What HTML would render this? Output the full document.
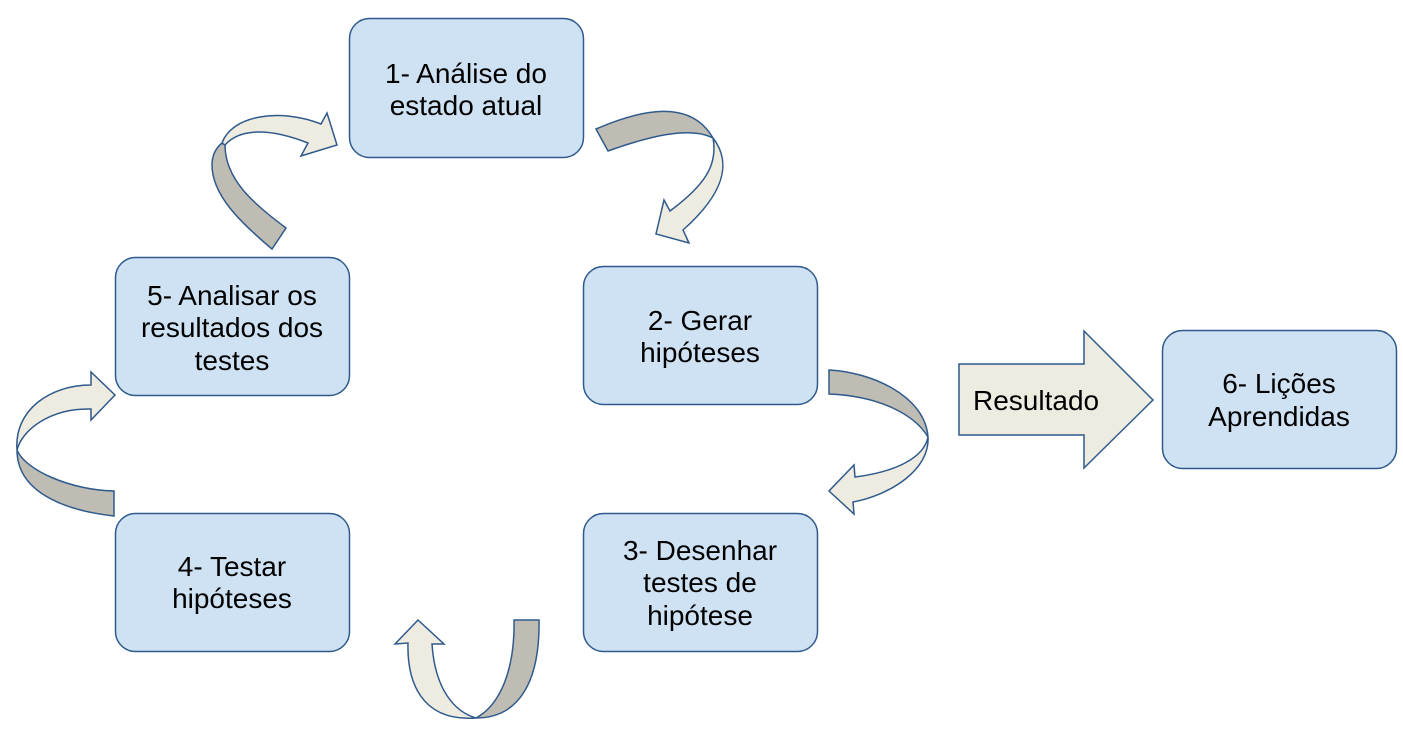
<!DOCTYPE html>
<html><head><meta charset="utf-8"><style>
html,body{margin:0;padding:0;background:#fff;}
svg{display:block;}
text{font-family:"Liberation Sans",Arial,sans-serif;font-size:28px;fill:#000;}
</style></head><body>
<svg width="1403" height="729" viewBox="0 0 1403 729" xmlns="http://www.w3.org/2000/svg">
<g fill="#cfe2f3" stroke="#2f5a8c" stroke-width="1.5">
<rect x="349.5" y="18.5" width="234" height="139" rx="20"/>
<rect x="583.5" y="266.5" width="234" height="138" rx="20"/>
<rect x="583.5" y="513.5" width="234" height="138" rx="20"/>
<rect x="115.5" y="513.5" width="234" height="138" rx="20"/>
<rect x="115.5" y="257.5" width="234" height="138" rx="20"/>
<rect x="1162.5" y="330.5" width="234" height="138" rx="20"/>
</g>
<g stroke="#2f5a8c" stroke-width="1.5" stroke-linejoin="miter">
<path fill="#bfbcb4" d="M272,249 C240,222 212,195 212,165 C212,155 216,148 222,143 L225,145 C225,180 255,205 286,228 Z"/>
<path fill="#eeece1" d="M222,143 C232,115 280,108 321,124 L327,113 L337,145 L301,156 L308,143 C270,128 240,128 225,145 Z"/>
<path fill="#bfbcb4" d="M596,129 C640,110 690,98 713,138 C690,126 650,136 608,151 Z"/>
<path fill="#eeece1" d="M713,138 C730,160 728,190 683,230 L689,243 L656,234 L664,200 L670,211 C705,185 718,165 713,138 Z"/>
<path fill="#bfbcb4" d="M829,370 C870,372 925,395 928,437 C915,415 880,396 829,394 Z"/>
<path fill="#eeece1" d="M928,437 C930,470 890,495 853,502 L854,514 L829,491 L854,465 L855,477 C895,472 924,458 928,437 Z"/>
<path fill="#bfbcb4" d="M114,516 C60,510 17,490 17,450 C25,470 70,490 114,491 Z"/>
<path fill="#eeece1" d="M17,450 C14,410 50,385 91,385 L91,372 L115,395 L91,420 L91,409 C50,408 22,430 17,450 Z"/>
<path fill="#bfbcb4" d="M539,620 C540,680 520,718 476,718 C500,705 515,670 514,620 Z"/>
<path fill="#eeece1" d="M476,718 C420,722 407,680 408,643 L395,644 L418,620 L444,644 L432,644 C435,690 455,712 476,718 Z"/>
<path fill="#eeece1" d="M959,364 L1084,364 L1084,331 L1153,400 L1084,468 L1084,435 L959,435 Z"/>
</g>
<g text-anchor="middle">
<text x="466" y="83">1- Análise do</text>
<text x="466" y="115">estado atual</text>
<text x="700" y="330">2- Gerar</text>
<text x="700" y="362">hipóteses</text>
<text x="700" y="560">3- Desenhar</text>
<text x="700" y="592">testes de</text>
<text x="700" y="625">hipótese</text>
<text x="232" y="576">4- Testar</text>
<text x="232" y="608">hipóteses</text>
<text x="232" y="305">5- Analisar os</text>
<text x="232" y="337">resultados dos</text>
<text x="232" y="370">testes</text>
<text x="1279" y="393">6- Lições</text>
<text x="1279" y="426">Aprendidas</text>
</g>
<text x="973" y="410">Resultado</text>
</svg>
</body></html>
